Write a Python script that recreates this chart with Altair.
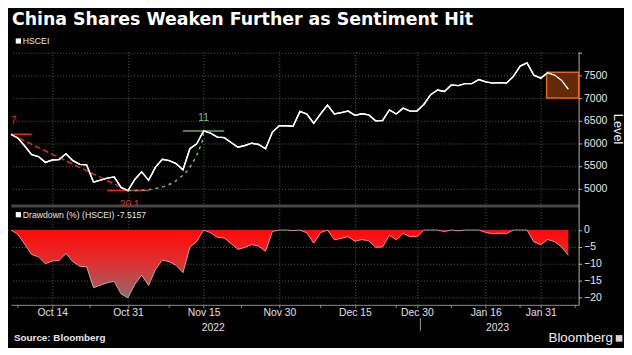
import altair as alt
import pandas as pd

# ---------------- data ----------------
dates = [
    "2022-10-06", "2022-10-07", "2022-10-10", "2022-10-11", "2022-10-12", "2022-10-13", "2022-10-14",
    "2022-10-17", "2022-10-18", "2022-10-19", "2022-10-20", "2022-10-21", "2022-10-24", "2022-10-25",
    "2022-10-26", "2022-10-27", "2022-10-28", "2022-10-31",
    "2022-11-01", "2022-11-02", "2022-11-03", "2022-11-04", "2022-11-07", "2022-11-08", "2022-11-09",
    "2022-11-10", "2022-11-11", "2022-11-14", "2022-11-15", "2022-11-16", "2022-11-17", "2022-11-18",
    "2022-11-21", "2022-11-22", "2022-11-23", "2022-11-24", "2022-11-25", "2022-11-28", "2022-11-29",
    "2022-11-30",
    "2022-12-01", "2022-12-02", "2022-12-05", "2022-12-06", "2022-12-07", "2022-12-08", "2022-12-09",
    "2022-12-12", "2022-12-13", "2022-12-14", "2022-12-15", "2022-12-16", "2022-12-19", "2022-12-20",
    "2022-12-21", "2022-12-22", "2022-12-23", "2022-12-28", "2022-12-29", "2022-12-30",
    "2023-01-03", "2023-01-04", "2023-01-05", "2023-01-06", "2023-01-09", "2023-01-10", "2023-01-11",
    "2023-01-12", "2023-01-13", "2023-01-16", "2023-01-17", "2023-01-18", "2023-01-19", "2023-01-20",
    "2023-01-26", "2023-01-27", "2023-01-30", "2023-01-31",
    "2023-02-01", "2023-02-02", "2023-02-03", "2023-02-06",
]
hscei = [
    6200, 6120, 5940, 5750, 5707, 5578, 5630, 5640, 5770, 5617,
    5535, 5522, 5138, 5185, 5230, 5256, 5025, 4954, 5200, 5370,
    5180, 5472, 5648, 5617, 5550, 5415, 5882, 5990, 6275, 6225,
    6139, 6126, 6020, 5913, 5952, 6003, 5974, 5880, 6250, 6390,
    6390, 6380, 6708, 6651, 6445, 6655, 6850, 6651, 6680, 6715,
    6620, 6655, 6630, 6498, 6505, 6740, 6651, 6780, 6715, 6715,
    6862, 7080, 7182, 7150, 7296, 7280, 7324, 7324, 7415, 7362,
    7335, 7345, 7335, 7480, 7712, 7785, 7510, 7447, 7565, 7515,
    7400, 7200,
]
tick_idx = [6, 17, 28, 39, 50, 59, 69, 77]
tick_lbl = ["Oct 14", "Oct 31", "Nov 15", "Nov 30", "Dec 15", "Dec 30", "Jan 16", "Jan 31"]
minor_idx = [1, 11.5, 23, 33.5, 45, 56, 64, 74, 82]
year_lbl = ["2022", "2023"]
year_pos = [29.4, 70.7]
year_sep = [59.5]
level_ticks = [5000, 5500, 6000, 6500, 7000, 7500, 8000]
dd_ticks = [0, -5, -10, -15, -20]

# drawdown annotation: peak (i0), trough (i17), recovery (i28)
peak_i, trough_i, recov_i = 0, 17, 28
dd_labels = ["17", "-20.1", "11"]
green_i = [17, 18.9, 20.9, 22.4, 23.5, 24.5, 25.5, 26.2, 26.9, 27.5, 27.9, 28]
green_v = [4954, 4959, 4995, 5052, 5126, 5233, 5371, 5519, 5710, 5923, 6135, 6275]
box_i = [77.85, 82.5]
box_v = [7005, 7575]

# ---------------- layout ----------------
W = 575.5
HT = 155.8
HB = 100.6
GRID = "#5a5a5a"
FONT = "Liberation Sans"
RED = "#e5282a"
GREEN = "#6aa56a"

df = pd.DataFrame({"i": list(range(len(hscei))), "date": dates, "v": hscei})

xs = alt.Scale(domain=[0, 82.5], nice=False, zero=False)
ys_top = alt.Scale(domain=[4624, 8031], nice=False, zero=False)
ys_bot = alt.Scale(domain=[-22.2, 7.24], nice=False, zero=False)
label_expr = ("[" + ",".join(f"'{l}'" for l in tick_lbl) + "][indexof(["
              + ",".join(str(t) for t in tick_idx) + "], datum.value)]")

AX_X_TOP = alt.Axis(
    values=tick_idx, grid=True, gridColor=GRID, gridDash=[1, 2], gridWidth=1,
    labels=False, ticks=False, domain=True, domainColor="#464646", domainWidth=3, title=None)
AX_Y_TOP = alt.Axis(
    orient="right", values=level_ticks, format="d", labelOverlap=False,
    labelExpr="datum.value >= 8000 ? '' : datum.label",
    grid=True, gridColor=GRID, gridDash=[1, 2], gridWidth=1,
    domain=True, domainColor="#b0b0b0", tickColor="#b0b0b0", tickSize=3,
    labelColor="#e8e8e8", labelFont=FONT, labelFontSize=10.6, labelPadding=2,
    title="Level", titleColor="#f0f0f0", titleFont=FONT, titleFontSize=13,
    titleFontWeight="normal", titleAngle=90, titlePadding=4)
AX_X_BOT = alt.Axis(
    values=tick_idx, labelExpr=label_expr, grid=True, gridColor=GRID, gridDash=[1, 2], gridWidth=1,
    ticks=True, tickSize=3, tickColor="#8a8a8a", domain=True, domainColor="#8a8a8a", domainWidth=1,
    labelColor="#e0e0e0", labelFont=FONT, labelFontSize=10.5, labelPadding=0, labelOverlap=False, title=None)
AX_Y_BOT = alt.Axis(
    orient="right", values=dd_ticks, format="d", labelOverlap=False,
    grid=True, gridColor=GRID, gridDash=[1, 2], gridWidth=1,
    domain=True, domainColor="#b0b0b0", tickColor="#b0b0b0", tickSize=3,
    labelColor="#e8e8e8", labelFont=FONT, labelFontSize=10.6, labelPadding=2, title=None)


def xt(field):
    return alt.X(field, scale=xs, axis=AX_X_TOP, title=None)


def yt(field):
    return alt.Y(field, scale=ys_top, axis=AX_Y_TOP)


def xb(field):
    return alt.X(field, scale=xs, axis=AX_X_BOT, title=None)


main_line = alt.Chart(df).mark_line(color="#ffffff", strokeWidth=1.4).encode(x=xt("i:Q"), y=yt("v:Q"))

box = alt.Chart(pd.DataFrame({"x1": [box_i[0]], "x2": [box_i[1]], "y1": [box_v[0]], "y2": [box_v[1]]})).mark_rect(
    fill="#65290a", stroke="#e2661f", strokeWidth=1.5
).encode(x=xt("x1:Q"), x2="x2:Q", y=yt("y1:Q"), y2="y2:Q")

red_dash = alt.Chart(pd.DataFrame({"i": [peak_i, trough_i], "v": [hscei[peak_i], hscei[trough_i]]})).mark_line(
    color=RED, strokeDash=[6, 3], strokeWidth=1.5
).encode(x=xt("i:Q"), y=yt("v:Q"))

hl = pd.DataFrame({
    "x1": [peak_i - 3, trough_i - 3, recov_i - 3],
    "x2": [peak_i + 3, trough_i + 3, recov_i + 3],
    "v": [hscei[peak_i], hscei[trough_i], hscei[recov_i]],
    "c": ["r", "r", "g"],
})
hlines = alt.Chart(hl).mark_rule(strokeWidth=1.6, clip=True).encode(
    x=xt("x1:Q"), x2="x2:Q", y=yt("v:Q"),
    color=alt.Color("c:N", scale=alt.Scale(domain=["r", "g"], range=[RED, GREEN]), legend=None))

green_curve = alt.Chart(pd.DataFrame({"i": green_i, "v": green_v})).mark_line(
    color="#72b872", strokeDash=[3, 4], strokeWidth=1.5, interpolate="monotone"
).encode(x=xt("i:Q"), y=yt("v:Q"))

lab_up = pd.DataFrame({"i": [peak_i, recov_i], "v": [hscei[peak_i], hscei[recov_i]],
                       "t": [dd_labels[0], dd_labels[2]], "c": ["r", "g"]})
lab_dn = pd.DataFrame({"i": [trough_i], "v": [hscei[trough_i]], "t": [dd_labels[1]]})
txt_col = alt.Color("c:N", scale=alt.Scale(domain=["r", "g"], range=[RED, "#80c080"]), legend=None)
ann_up = alt.Chart(lab_up).mark_text(font=FONT, fontSize=10.3, clip=True, baseline="middle", dy=-13).encode(
    x=xt("i:Q"), y=yt("v:Q"), text="t:N", color=txt_col)
ann_dn = alt.Chart(lab_dn).mark_text(font=FONT, fontSize=10.3, clip=True, baseline="middle", dy=15,
                                     color=RED).encode(x=xt("i:Q"), y=yt("v:Q"), text="t:N")

one = pd.DataFrame({"t": ["x"]})
title = alt.Chart(pd.DataFrame({"t": ["China Shares Weaken Further as Sentiment Hit"]})).mark_text(
    font="DejaVu Sans", fontWeight="bold", fontSize=17.6, color="#ffffff", align="left", baseline="alphabetic"
).encode(text="t:N", x=alt.value(1), y=alt.value(-27.4))
leg_sq = alt.Chart(one).mark_square(size=28, color="#ffffff", opacity=1, filled=True).encode(
    x=alt.value(7.5), y=alt.value(-10.9))
leg_tx = alt.Chart(pd.DataFrame({"t": ["HSCEI"]})).mark_text(
    font=FONT, fontSize=8.8, color="#e8e8e8", align="left", baseline="middle"
).encode(text="t:N", x=alt.value(12), y=alt.value(-10.9))

top = alt.layer(main_line, box, red_dash, hlines, green_curve, main_line, ann_up, ann_dn,
                title, leg_sq, leg_tx).properties(width=W, height=HT).resolve_scale(color="independent")

# ---------------- bottom panel ----------------
area = alt.Chart(df).transform_window(
    runmax="max(v)", sort=[alt.SortField("i")], frame=[None, 0]
).transform_calculate(
    dd="(datum.v / datum.runmax - 1) * 100", zero="0"
).mark_area(
    opacity=1,
    color=alt.Gradient(gradient="linear",
                       stops=[alt.GradientStop(color="#ff0a0a", offset=0),
                              alt.GradientStop(color="#dc3232", offset=0.5),
                              alt.GradientStop(color="#8e6b6d", offset=1)],
                       x1=1, x2=1, y1=0, y2=1),
    line={"color": "#c8c8c8", "strokeWidth": 0.8},
).encode(x=xb("i:Q"), y=alt.Y("dd:Q", scale=ys_bot, axis=AX_Y_BOT), y2=alt.Y2("zero:Q"))

minor = alt.Chart(pd.DataFrame({"i": minor_idx})).mark_rule(color="#8a8a8a", strokeWidth=1).encode(
    x=xb("i:Q"), y=alt.value(HB), y2=alt.value(HB + 3))

dleg_sq = alt.Chart(one).mark_square(size=28, color="#ffffff", opacity=1, filled=True).encode(
    x=alt.value(7.5), y=alt.value(9.2))
dleg_tx = alt.Chart(pd.DataFrame({"t": ["Drawdown (%) (HSCEI) -7.5157"]})).mark_text(
    font=FONT, fontSize=8.8, color="#e8e8e8", align="left", baseline="middle"
).encode(text="t:N", x=alt.value(12), y=alt.value(9.2))

years = alt.Chart(pd.DataFrame({"t": year_lbl, "i": year_pos})).mark_text(
    font=FONT, fontSize=10.5, color="#e0e0e0", baseline="middle"
).encode(text="t:N", x=xb("i:Q"), y=alt.value(123.9))
sep = alt.Chart(pd.DataFrame({"i": year_sep})).mark_rule(color="#9a9a9a", strokeWidth=1).encode(
    x=xb("i:Q"), y=alt.value(113.9), y2=alt.value(126.8))
source = alt.Chart(pd.DataFrame({"t": ["Source: Bloomberg"]})).mark_text(
    font=FONT, fontWeight="bold", fontSize=10, color="#e6e6e6", align="left", baseline="middle"
).encode(text="t:N", x=alt.value(3), y=alt.value(134.6))
brand = alt.Chart(pd.DataFrame({"t": ["Bloomberg"]})).mark_text(
    font=FONT, fontSize=13.5, color="#f0f0f0", align="left", baseline="middle"
).encode(text="t:N", x=alt.value(545), y=alt.value(134.6))
brand_icon = alt.Chart(one).mark_square(size=45, color="#d8d8d8", opacity=1, filled=True).encode(
    x=alt.value(616.5), y=alt.value(134.6))

bottom = alt.layer(area, minor, dleg_sq, dleg_tx, years, sep, source, brand, brand_icon).properties(
    width=W, height=HB)

chart = alt.vconcat(top, bottom, spacing=0).properties(
    background="#000000", padding={"left": 0, "top": 0, "right": 0, "bottom": 0}
).configure_view(stroke=None)

chart.save("out.html", embed_options={"renderer": "svg", "actions": False})
